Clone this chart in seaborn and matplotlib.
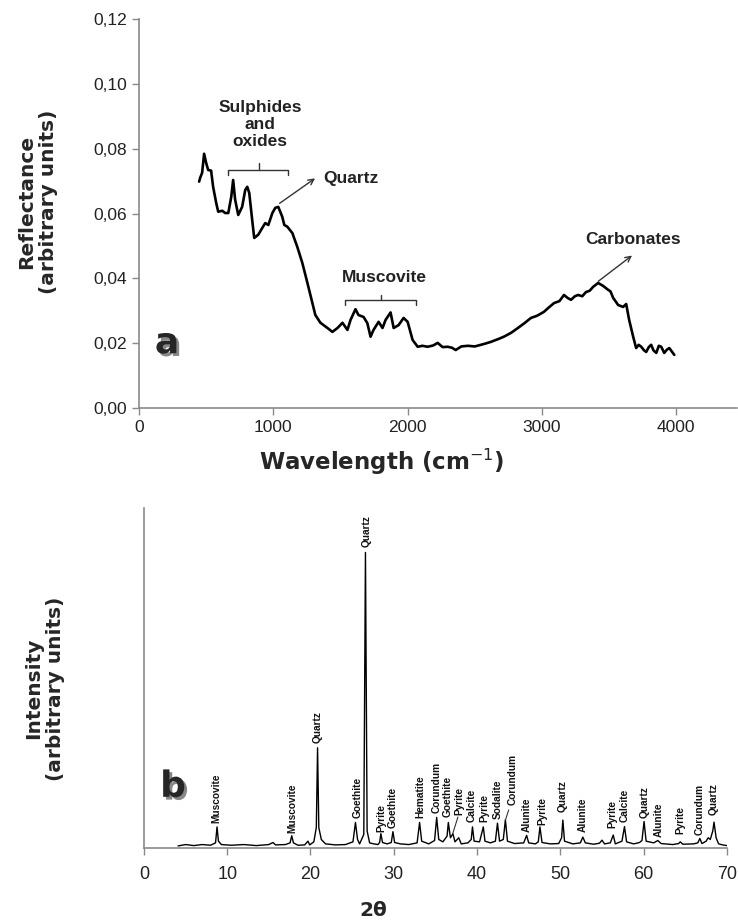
import matplotlib
matplotlib.use('Agg')
import matplotlib.pyplot as plt
import matplotlib.patheffects as pe
import seaborn as sns
from matplotlib.ticker import FuncFormatter

# --- panel a: reflectance spectrum (wavelength, reflectance)
wavelength = [448, 455, 470, 485, 500, 515, 537, 552, 575, 590, 620, 642, 665, 687, 701,
              716, 739, 768, 791, 806, 821, 843, 858, 888, 918, 940, 963, 993, 1015, 1037,
              1067, 1082, 1104, 1142, 1179, 1216, 1254, 1291, 1313, 1351, 1403, 1440, 1478,
              1515, 1552, 1575, 1612, 1634, 1672, 1700, 1724, 1746, 1784, 1813, 1836, 1873,
              1896, 1933, 1970, 2000, 2037, 2075, 2110, 2149, 2190, 2224, 2260, 2299, 2330,
              2358, 2400, 2448, 2500, 2545, 2580, 2619, 2670, 2716, 2770, 2821, 2870, 2918,
              2965, 3015, 3050, 3090, 3130, 3164, 3190, 3216, 3245, 3269, 3300, 3328, 3355,
              3381, 3418, 3455, 3492, 3510, 3530, 3567, 3604, 3627, 3649, 3679, 3701, 3720,
              3739, 3760, 3776, 3795, 3813, 3830, 3851, 3870, 3888, 3910, 3930, 3948, 3985]
reflectance = [0.0699, 0.0710, 0.0726, 0.0785, 0.0757, 0.0735, 0.0733, 0.0683, 0.0633, 0.0606,
               0.0609, 0.0602, 0.0602, 0.0652, 0.0704, 0.0643, 0.0596, 0.0621, 0.0673, 0.0683,
               0.0664, 0.0580, 0.0525, 0.0535, 0.0556, 0.0571, 0.0565, 0.0602, 0.0618, 0.0621,
               0.0590, 0.0565, 0.0560, 0.0540, 0.0497, 0.0448, 0.0386, 0.0324, 0.0287, 0.0263,
               0.0247, 0.0235, 0.0247, 0.0263, 0.0241, 0.0272, 0.0305, 0.0287, 0.0281, 0.0262,
               0.0220, 0.0241, 0.0266, 0.0247, 0.0272, 0.0295, 0.0247, 0.0256, 0.0278, 0.0266,
               0.0210, 0.0189, 0.0192, 0.0189, 0.0193, 0.0201, 0.0188, 0.0189, 0.0186, 0.0179,
               0.0190, 0.0192, 0.0190, 0.0195, 0.0199, 0.0204, 0.0212, 0.0220, 0.0232, 0.0247,
               0.0262, 0.0278, 0.0285, 0.0297, 0.0310, 0.0324, 0.0330, 0.0349, 0.0340, 0.0334,
               0.0345, 0.0349, 0.0345, 0.0358, 0.0362, 0.0374, 0.0386, 0.0377, 0.0365, 0.0360,
               0.0340, 0.0318, 0.0312, 0.0321, 0.0272, 0.0220, 0.0185, 0.0195, 0.0189, 0.0178,
               0.0173, 0.0188, 0.0195, 0.0178, 0.0170, 0.0192, 0.0189, 0.0170, 0.0180, 0.0185,
               0.0164]

# --- panel b: XRD pattern, (2theta, intensity) vertices
xrd_points = [(4.1, 0.6), (5.0, 1.0), (6.0, 0.7), (7.0, 1.0), (8.0, 0.8), (8.6, 1.5), (8.78, 6.2),
              (8.95, 2.0), (9.3, 1.0), (10.5, 0.8), (12.0, 1.0), (13.5, 0.7), (15.0, 1.0),
              (15.5, 1.6), (15.8, 0.9), (17.0, 1.0), (17.55, 1.5), (17.75, 3.6), (17.95, 1.5),
              (18.5, 0.8), (19.3, 0.9), (19.7, 2.0), (19.9, 0.9), (20.4, 1.8), (20.7, 6.0),
              (20.85, 29.5), (21.0, 6.0), (21.3, 2.5), (21.8, 1.2), (23.0, 0.9), (24.2, 1.0),
              (25.1, 1.8), (25.4, 7.5), (25.65, 2.5), (25.9, 1.2), (26.4, 4.0), (26.6, 87.0),
              (26.8, 5.0), (27.1, 1.5), (27.6, 1.2), (28.1, 1.0), (28.3, 1.6), (28.45, 4.2),
              (28.65, 1.6), (29.2, 1.2), (29.7, 1.6), (29.9, 4.8), (30.1, 1.6), (30.8, 1.2),
              (31.8, 1.0), (32.8, 1.5), (33.1, 7.5), (33.35, 2.0), (34.2, 1.2), (34.9, 2.2),
              (35.15, 9.0), (35.4, 2.5), (35.9, 1.8), (36.4, 3.5), (36.55, 7.5), (36.8, 3.0),
              (37.1, 4.2), (37.35, 1.8), (37.8, 3.0), (38.1, 1.2), (38.9, 1.5), (39.3, 2.5),
              (39.45, 6.2), (39.65, 2.0), (40.3, 1.8), (40.75, 6.2), (40.95, 2.0), (41.6, 1.5),
              (42.2, 2.0), (42.45, 7.3), (42.7, 2.0), (43.15, 2.5), (43.4, 8.3), (43.65, 2.0),
              (44.5, 1.3), (45.6, 1.5), (45.95, 3.7), (46.2, 1.5), (47.0, 1.2), (47.35, 1.8),
              (47.55, 6.2), (47.8, 1.6), (48.8, 1.2), (49.8, 1.3), (50.15, 3.0), (50.3, 8.2),
              (50.5, 2.0), (51.5, 1.2), (52.4, 1.5), (52.7, 3.2), (53.0, 1.5), (54.0, 1.1),
              (54.7, 1.4), (55.0, 2.3), (55.3, 1.2), (56.0, 1.5), (56.35, 3.8), (56.6, 1.2),
              (57.4, 2.0), (57.7, 6.3), (57.95, 1.8), (58.8, 1.2), (59.5, 1.6), (59.8, 2.2),
              (60.05, 7.8), (60.3, 2.0), (61.2, 1.5), (61.7, 2.2), (62.1, 1.3), (63.5, 1.0),
              (64.2, 1.3), (64.4, 1.8), (64.7, 1.1), (66.0, 1.2), (66.5, 1.5), (66.75, 2.8),
              (67.0, 1.3), (67.5, 2.0), (67.75, 3.0), (68.0, 2.5), (68.3, 5.0), (68.45, 7.6),
              (68.7, 3.0), (69.0, 1.2), (69.5, 0.9), (70.0, 0.7)]
two_theta = [p[0] for p in xrd_points]
intensity = [p[1] for p in xrd_points]

# mineral labels on the XRD peaks: (2theta, bottom of label, name)
peak_labels = [(8.76, 7.4, 'Muscovite'), (17.8, 4.4, 'Muscovite'), (20.8, 31.0, 'Quartz'),
               (25.6, 8.8, 'Goethite'), (26.8, 88.5, 'Quartz'), (28.5, 4.7, 'Pyrite'),
               (29.9, 5.9, 'Goethite'), (33.2, 8.8, 'Hematite'), (35.2, 10.3, 'Corundum'),
               (36.5, 9.1, 'Goethite'), (37.9, 9.7, 'Pyrite'), (39.4, 7.6, 'Calcite'),
               (40.9, 7.6, 'Pyrite'), (42.5, 8.5, 'Sodalite'), (44.3, 12.6, 'Corundum'),
               (46.0, 4.7, 'Alunite'), (47.8, 6.8, 'Pyrite'), (50.3, 10.6, 'Quartz'),
               (52.7, 4.7, 'Alunite'), (56.2, 5.9, 'Pyrite'), (57.7, 7.6, 'Calcite'),
               (60.1, 8.8, 'Quartz'), (61.8, 3.2, 'Alunite'), (64.4, 4.1, 'Pyrite'),
               (66.7, 3.8, 'Corundum'), (68.4, 9.7, 'Quartz')]

sns.set_style('white')
plt.rcParams['font.family'] = ['Liberation Sans', 'DejaVu Sans']

fig = plt.figure(figsize=(7.38, 9.23), dpi=100)
ax1 = fig.add_axes([0.1883, 0.558, 0.81, 0.421])
ax2 = fig.add_axes([0.195, 0.0813, 0.79, 0.368])

spine_col = '#8a8a8a'
label_font = dict(family='DejaVu Sans', weight='bold', size=14.5)

# ---- panel a
sns.lineplot(x=wavelength, y=reflectance, ax=ax1, color='black', lw=1.9,
             sort=False, estimator=None)
ax1.set_xlim(0, 4450)
ax1.set_ylim(0, 0.12)
ax1.set_xticks([0, 1000, 2000, 3000, 4000])
ax1.set_yticks([0, 0.02, 0.04, 0.06, 0.08, 0.10, 0.12])
ax1.yaxis.set_major_formatter(FuncFormatter(lambda v, p: f'{v:.2f}'.replace('.', ',')))
ax1.set_xlabel('Wavelength (cm$^{-1}$)', family='DejaVu Sans', weight='bold', size=16.5)
ax1.set_ylabel('Reflectance\n(arbitrary units)', **label_font)
ax1.xaxis.set_label_coords(0.405, -0.1)
ax1.yaxis.set_label_coords(-0.135, 0.53)

ann_font = dict(fontsize=12.5, fontweight='bold', color='#222222')
ax1.text(903, 0.0875, 'Sulphides\nand\noxides', ha='center', va='center',
         linespacing=1.15, **ann_font)
ax1.plot([664, 664, 1112, 1112], [0.0720, 0.0735, 0.0735, 0.0720], color='#333333', lw=1)
ax1.plot([895, 895], [0.0735, 0.0755], color='#333333', lw=1)
ax1.annotate('', xy=(1328, 0.0714), xytext=(1030, 0.0627),
             arrowprops=dict(arrowstyle='->', color='#333333', lw=1))
ax1.text(1370, 0.0708, 'Quartz', ha='left', va='center', **ann_font)
ax1.text(1828, 0.0402, 'Muscovite', ha='center', va='center', **ann_font)
ax1.plot([1537, 1537, 2060, 2060], [0.0318, 0.0334, 0.0334, 0.0318], color='#333333', lw=1)
ax1.plot([1799, 1799], [0.0334, 0.0350], color='#333333', lw=1)
ax1.text(3679, 0.0519, 'Carbonates', ha='center', va='center', **ann_font)
ax1.annotate('', xy=(3687, 0.0476), xytext=(3403, 0.0386),
             arrowprops=dict(arrowstyle='->', color='#333333', lw=1))
ax1.text(209, 0.020, 'a', ha='center', va='center', fontsize=26, fontweight='bold',
         family='DejaVu Sans',
         path_effects=[pe.withSimplePatchShadow(offset=(2, -2), shadow_rgbFace='#888888',
                                                alpha=1)])

# ---- panel b
sns.lineplot(x=two_theta, y=intensity, ax=ax2, color='black', lw=1.0,
             sort=False, estimator=None)
ax2.set_xlim(0, 70)
ax2.set_ylim(0, 100)
ax2.set_xticks(range(0, 71, 10))
ax2.set_yticks([])
ax2.set_xlabel('2θ', **label_font)
ax2.set_ylabel('Intensity\n(arbitrary units)', **label_font)
ax2.xaxis.set_label_coords(0.393, -0.155)
ax2.yaxis.set_label_coords(-0.135, 0.47)

for x, y, name in peak_labels:
    ax2.text(x, y, name, rotation=90, ha='center', va='bottom', fontsize=7.3,
             fontweight='bold', color='#111111')
ax2.plot([37.7, 37.1], [9.1, 4.4], color='#333333', lw=0.8)
ax2.plot([43.8, 43.4], [11.2, 8.2], color='#333333', lw=0.8)
ax2.text(3.5, 18, 'b', ha='center', va='center', fontsize=26, fontweight='bold',
         family='DejaVu Sans',
         path_effects=[pe.withSimplePatchShadow(offset=(2, -2), shadow_rgbFace='#888888',
                                                alpha=1)])

for ax in (ax1, ax2):
    for side in ('top', 'right'):
        ax.spines[side].set_visible(False)
    for side in ('left', 'bottom'):
        ax.spines[side].set_color(spine_col)
        ax.spines[side].set_linewidth(1.2)
    ax.tick_params(axis='both', which='both', direction='out', length=5, width=1,
                   color=spine_col, labelcolor='#222222', left=True, bottom=True)
ax1.tick_params(labelsize=12.5)
ax2.tick_params(axis='x', labelsize=13, pad=8)
ax2.tick_params(axis='y', left=False)

fig.savefig('out.png', dpi=100)
